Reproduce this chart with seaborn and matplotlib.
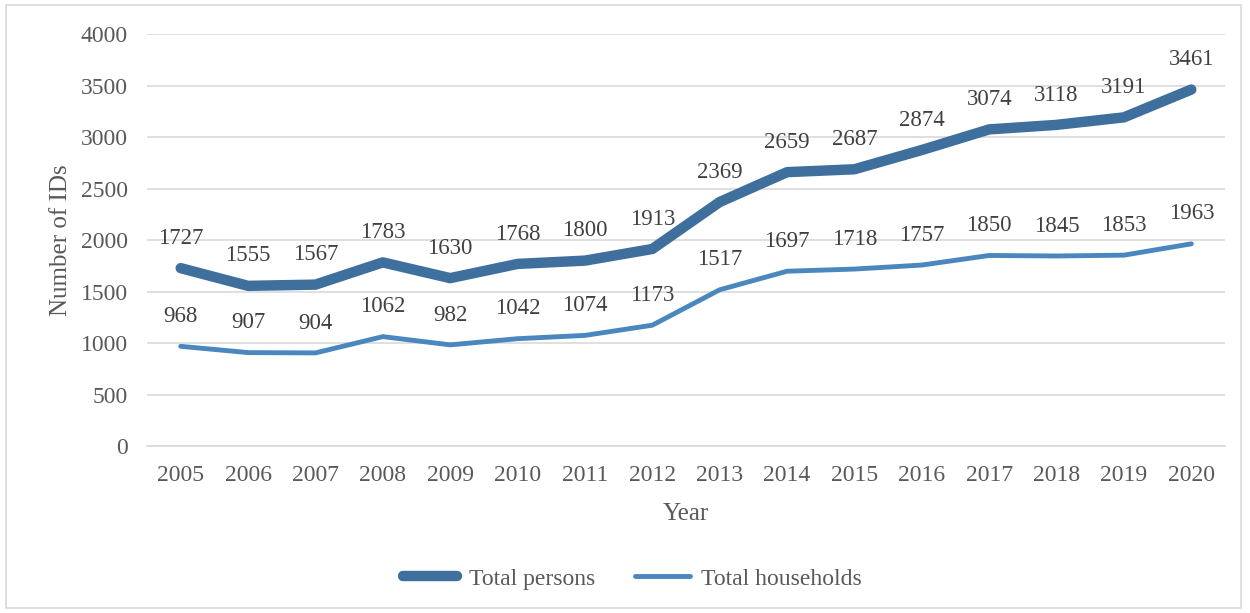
import matplotlib
matplotlib.use("Agg")
import matplotlib.pyplot as plt
from matplotlib.patches import Rectangle
import seaborn as sns
import pandas as pd

years = list(range(2005, 2021))
total_persons = [1727, 1555, 1567, 1783, 1630, 1768, 1800, 1913, 2369, 2659,
                 2687, 2874, 3074, 3118, 3191, 3461]
total_households = [968, 907, 904, 1062, 982, 1042, 1074, 1173, 1517, 1697,
                    1718, 1757, 1850, 1845, 1853, 1963]
y_ticks = [0, 500, 1000, 1500, 2000, 2500, 3000, 3500, 4000]

series_names = ["Total persons", "Total households"]
series_colors = {"Total persons": "#3E6F9D", "Total households": "#4A87BE"}
series_widths = {"Total persons": 7.5, "Total households": 3.5}

sns.set_theme(style="white")
plt.rcParams["font.family"] = ["Liberation Serif", "DejaVu Serif"]
text_color = "#595959"

df = pd.DataFrame({
    "pos": list(range(len(years))) * 2,
    "year": [str(y) for y in years] * 2,
    "value": total_persons + total_households,
    "series": [series_names[0]] * len(years) + [series_names[1]] * len(years),
})

fig = plt.figure(figsize=(12.5, 6.13), dpi=100)
ax = fig.add_axes([0.1176, 0.2724, 0.8624, 0.6721])

sns.lineplot(data=df, x="pos", y="value", hue="series", palette=series_colors,
             hue_order=series_names, ax=ax, legend=False, sort=False)
for line, name in zip(ax.lines, series_names):
    line.set_linewidth(series_widths[name])
    line.set_solid_capstyle("round")
    line.set_solid_joinstyle("round")

# value labels above each point
for vals in (total_persons, total_households):
    for i, v in enumerate(vals):
        ax.annotate(str(v), (i, v), xytext=(0, 21.5), textcoords="offset points",
                    ha="center", va="center", fontsize=16.5, color="#404040")

ax.set_xlim(-0.5, len(years) - 0.5)
ax.set_ylim(0, 4000)
ax.set_yticks(y_ticks)
ax.set_xticks(range(len(years)))
ax.set_xticklabels([str(y) for y in years])
ax.tick_params(axis="both", labelsize=17, labelcolor=text_color, length=0)
ax.tick_params(axis="x", pad=14)
ax.tick_params(axis="y", pad=14)
ax.yaxis.grid(True, color="#D9D9D9", linewidth=1.2)
ax.set_axisbelow(True)
for side in ("top", "right", "left"):
    ax.spines[side].set_visible(False)
ax.spines["bottom"].set_color("#D9D9D9")
ax.spines["bottom"].set_linewidth(1.2)

ax.set_xlabel("Year", fontsize=18, color=text_color, labelpad=12)
ax.set_ylabel("Number of IDs", fontsize=18, color=text_color, labelpad=6)

handles = [plt.Line2D([0], [0], color=series_colors[n], linewidth=series_widths[n],
                      solid_capstyle="round") for n in series_names]
fig.legend(handles, series_names, loc="center", bbox_to_anchor=(0.506, 0.0555),
           ncol=2, frameon=False, fontsize=17, handlelength=2.3,
           handletextpad=0.5, columnspacing=1.7, labelcolor=text_color)

# light chart-area border
fig.patches.append(Rectangle((0.005, 0.008), 0.988, 0.984, transform=fig.transFigure,
                             fill=False, edgecolor="#D9D9D9", linewidth=1.2))

fig.savefig("out.png", dpi=100)
